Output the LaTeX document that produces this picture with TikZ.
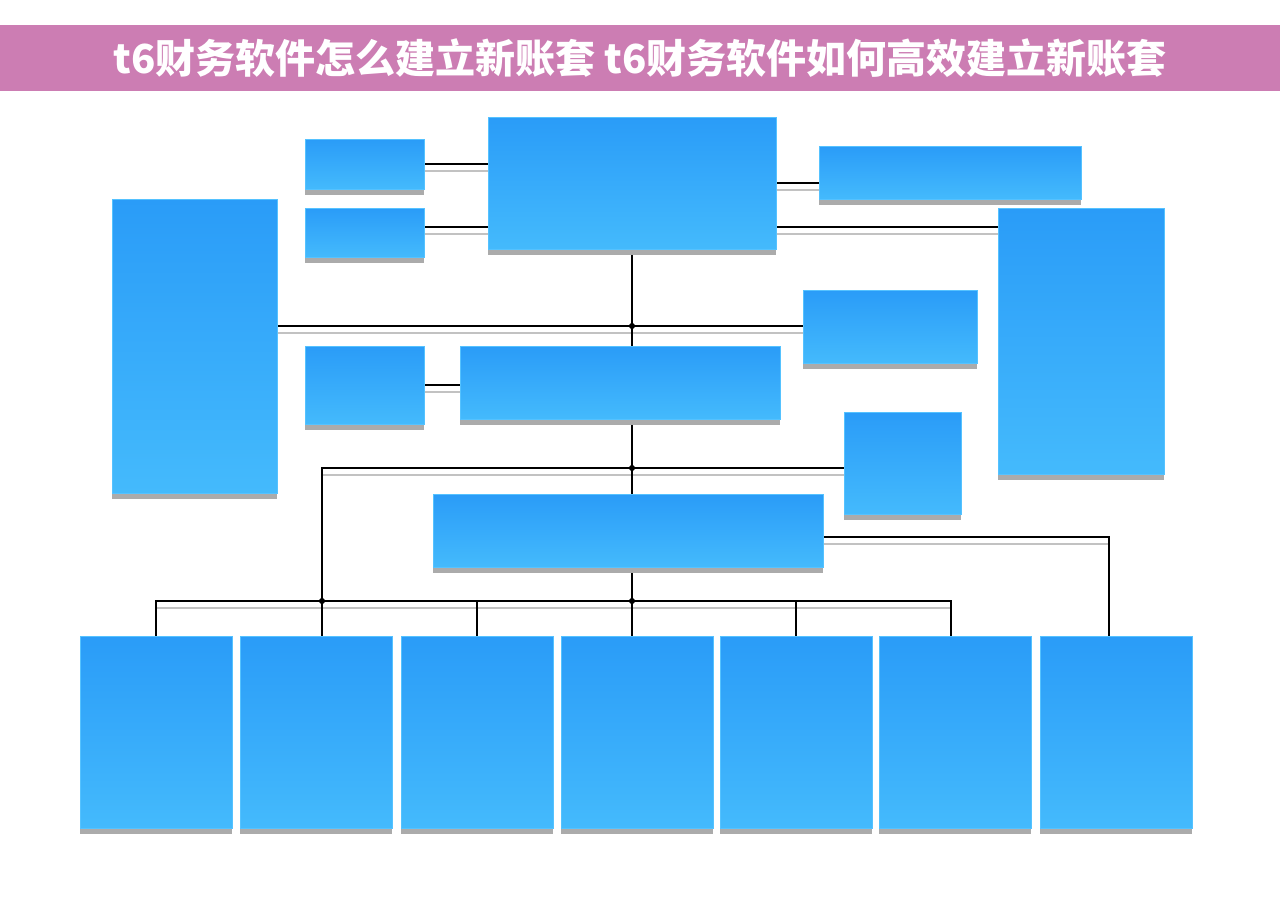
\documentclass[tikz,border=0pt]{standalone}
\usepackage{fontspec}
\usepackage{tikz}
\usetikzlibrary{shadows,shapes.geometric,backgrounds}
\newfontfamily\cjk{Noto Sans CJK SC}

\definecolor{bandpink}{HTML}{CC7DB3}
\definecolor{boxtop}{HTML}{2A9CF8}
\definecolor{boxbot}{HTML}{44BAFC}
\definecolor{boxedge}{HTML}{55C2FF}
\definecolor{shadegrey}{HTML}{ABABAB}
\definecolor{wiregrey}{HTML}{C2C2C2}

\tikzset{
  blk/.style={rectangle, inner sep=0pt, anchor=north west, shading=axis,
    top color=boxtop, bottom color=boxbot, draw=boxedge, line width=0.4pt,
    drop shadow={shadow xshift=0pt, shadow yshift=-6pt, fill=shadegrey, opacity=1}},
  joint/.style={diamond, fill=black, inner sep=0pt, minimum size=8pt},
  wire/.style={draw=black, line width=1.6pt},
  wireshade/.style={draw=wiregrey, line width=2pt}
}

% all connectors, drawn once as shadow and once in black
\newcommand{\wires}[1]{%
  \draw [#1] (A1.east) -- (A1.east -| T.west);
  \draw [#1] (A2.east |- tb) -- (tb);
  \draw [#1] (tc) -- (tc -| R1.west);
  \draw [#1] (tb -| T.east) -- (tb -| R2.west);
  \draw [#1] (T.south -| j1) -- (M.north -| j1);
  \draw [#1] (L.east |- j1) -- (M1.west |- j1);
  \draw [#1] (S.east) -- (S.east -| M.west);
  \draw [#1] (M.south -| j2) -- (B.north -| j2);
  \draw [#1] (Q.west |- j2) -- (d2 |- j2) -- (d2.center) -- (d2 |- b2.north);
  \draw [#1] (B.south -| j3) -- (b4.north -| j3);
  \draw [#1] (d1 |- b1.north) -- (d1) -- (d6) -- (d6 |- b6.north);
  \draw [#1] (d3) -- (d3 |- b3.north);
  \draw [#1] (d5) -- (d5 |- b5.north);
  \draw [#1] (B.east |- e7) -- (e7) -- (e7 |- b7.north);
}

\begin{document}
\begin{tikzpicture}[x=1pt, y=-1pt]
  \useasboundingbox (0,0) rectangle (1280,904);
  % title band
  \node [fill=bandpink, anchor=north west, minimum width=1280pt,
    minimum height=66pt, inner sep=0pt] (band) at (0,24.5) {};
  \node [text=white, font=\cjk\bfseries\fontsize{40}{48}\selectfont] (title)
    at (band.center) {t6财务软件怎么建立新账套 t6财务软件如何高效建立新账套};
  % upper boxes
  \node [blk, minimum width=119pt, minimum height=50pt] (A1) at (305,139) {};
  \node [blk, minimum width=119pt, minimum height=49pt] (A2) at (305,208) {};
  \node [blk, minimum width=288pt, minimum height=132pt] (T) at (488,117) {};
  \node [blk, minimum width=262pt, minimum height=53pt] (R1) at (819,146) {};
  \node [blk, minimum width=166pt, minimum height=266pt] (R2) at (998,208) {};
  \node [blk, minimum width=165pt, minimum height=294pt] (L) at (112,199) {};
  \node [blk, minimum width=174pt, minimum height=73pt] (M1) at (803,290) {};
  \node [blk, minimum width=119pt, minimum height=78pt] (S) at (305,346) {};
  \node [blk, minimum width=320pt, minimum height=73pt] (M) at (460,346) {};
  \node [blk, minimum width=117pt, minimum height=102pt] (Q) at (844,412) {};
  \node [blk, minimum width=390pt, minimum height=73pt] (B) at (433,494) {};
  % bottom row
  \foreach \i/\x in {1/80,2/240,3/401,4/561,5/720,6/879,7/1040}
    \node [blk, minimum width=152pt, minimum height=192pt] (b\i) at (\x,636) {};
  % bend and junction points
  \coordinate (tb) at (488,227);
  \coordinate (tc) at (776,183);
  \coordinate (e7) at (1109,537);
  \coordinate (d1) at (156,601);
  \coordinate (d3) at (477,601);
  \coordinate (d5) at (796,601);
  \coordinate (d6) at (951,601);
  \node [joint] (j1) at (632,326) {};
  \node [joint] (j2) at (632,468) {};
  \node [joint] (j3) at (632,601) {};
  \node [joint] (d2) at (322,601) {};
  \begin{scope}[on background layer]
    \begin{scope}[transform canvas={yshift=-7pt}]
      \wires{wireshade}
    \end{scope}
    \wires{wire}
  \end{scope}
\end{tikzpicture}
\end{document}
